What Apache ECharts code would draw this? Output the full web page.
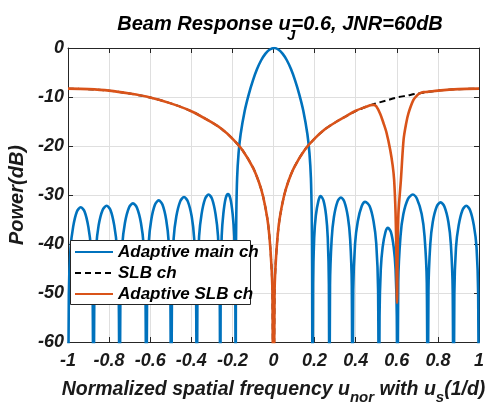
<!DOCTYPE html>
<html><head><meta charset="utf-8">
<script src="https://cdn.jsdelivr.net/npm/echarts@6/dist/echarts.min.js"></script>
<style>html,body{margin:0;padding:0;background:#fff}#c{width:490px;height:402px}</style>
</head><body><div id="c"></div>
<script>
// Adaptive main channel beam pattern [u, dB] (nulls drop below the axis)
const adaptiveMainCh = [
[-1.0,-90],
[-0.996,-50.5],[-0.988,-41],[-0.975,-36.5],[-0.957,-33.4],[-0.938,-32.5],[-0.919,-33.4],[-0.901,-36.5],[-0.888,-41],[-0.880,-50.5],[-0.876,-90],
[-0.872,-50.2],[-0.863,-40.7],[-0.851,-36.2],[-0.832,-33.1],[-0.812,-32.2],[-0.793,-33.1],[-0.775,-36.2],[-0.762,-40.7],[-0.753,-50.2],[-0.749,-90],
[-0.745,-49.7],[-0.736,-40.2],[-0.723,-35.7],[-0.7035,-32.6],[-0.684,-31.7],[-0.6645,-32.6],[-0.645,-35.7],[-0.632,-40.2],[-0.623,-49.7],[-0.619,-90],
[-0.615,-49.1],[-0.607,-39.6],[-0.595,-35.1],[-0.577,-32.0],[-0.5585,-31.1],[-0.540,-32.0],[-0.522,-35.1],[-0.510,-39.6],[-0.502,-49.1],[-0.498,-90],
[-0.494,-48.4],[-0.486,-38.9],[-0.473,-34.4],[-0.454,-31.3],[-0.4355,-30.4],[-0.417,-31.3],[-0.398,-34.4],[-0.386,-38.9],[-0.377,-48.4],[-0.373,-90],
[-0.370,-47.9],[-0.362,-38.4],[-0.350,-33.9],[-0.333,-30.8],[-0.316,-29.9],[-0.299,-30.8],[-0.282,-33.9],[-0.270,-38.4],[-0.262,-47.9],[-0.259,-90],
[-0.257,-47.8],[-0.252,-38.3],[-0.244,-33.8],[-0.233,-30.7],[-0.2215,-29.8],[-0.210,-30.7],[-0.199,-33.8],[-0.191,-38.3],[-0.186,-47.8],[-0.184,-90],
[-0.183,-45],[-0.181,-34],[-0.177,-26.5],[-0.170,-21.5],[-0.160,-17.6],[-0.140,-12.8],[-0.120,-9.4],[-0.100,-6.6],[-0.080,-4.3],
[-0.060,-2.5],[-0.040,-1.2],[-0.020,-0.35],[0.003,0],[0.025,-0.35],[0.045,-1.2],[0.065,-2.5],[0.085,-4.3],[0.105,-6.6],
[0.125,-9.4],[0.145,-12.8],[0.165,-17.6],[0.175,-21.5],[0.182,-26.5],[0.186,-34],[0.188,-45],[0.190,-90],
[0.1925,-48.2],[0.198,-38.7],[0.206,-34.2],[0.219,-31.1],[0.229,-30.2],[0.243,-31.1],[0.256,-34.2],[0.264,-38.7],[0.2695,-48.2],[0.272,-90],
[0.275,-48.5],[0.283,-39.0],[0.294,-34.5],[0.311,-31.4],[0.328,-30.5],[0.345,-31.4],[0.362,-34.5],[0.373,-39.0],[0.381,-48.5],[0.384,-90],
[0.388,-49.4],[0.397,-39.9],[0.410,-35.4],[0.429,-32.3],[0.446,-31.4],[0.468,-32.3],[0.487,-35.4],[0.500,-39.9],[0.509,-49.4],[0.513,-90],
[0.516,-54.7],[0.522,-45.2],[0.531,-40.7],[0.5445,-37.6],[0.557,-36.7],[0.5715,-37.6],[0.585,-40.7],[0.594,-45.2],[0.600,-54.7],[0.603,-90],
[0.607,-47.9],[0.618,-38.4],[0.632,-33.9],[0.6545,-30.8],[0.678,-29.9],[0.6985,-30.8],[0.721,-33.9],[0.735,-38.4],[0.746,-47.9],[0.750,-90],
[0.754,-49.5],[0.763,-40.0],[0.775,-35.5],[0.794,-32.4],[0.813,-31.5],[0.832,-32.4],[0.851,-35.5],[0.863,-40.0],[0.872,-49.5],[0.876,-90],
[0.880,-50.2],[0.888,-40.7],[0.901,-36.2],[0.9194,-33.1],[0.938,-32.2],[0.9566,-33.1],[0.975,-36.2],[0.988,-40.7],[0.996,-50.2],[1.0,-90]
];
// Sidelobe blanking channel pattern [u, dB]
const slbCh = [
[-1,-8.3],[-0.9,-8.4],[-0.8,-8.7],[-0.7,-9.3],[-0.6,-10.1],[-0.5,-11.3],[-0.4,-12.9],[-0.3,-15.2],[-0.25,-16.6],
[-0.2,-18.5],[-0.15,-20.9],[-0.1,-24.4],[-0.07,-27.5],[-0.05,-30.4],[-0.03,-34.8],[-0.02,-38.4],[-0.01,-44.4],[-0.005,-50.4],
[0,-90],
[0.005,-50.4],[0.01,-44.4],[0.02,-38.4],[0.03,-34.8],[0.05,-30.4],[0.07,-27.5],[0.1,-24.4],[0.15,-20.9],[0.2,-18.5],
[0.25,-16.6],[0.3,-15.2],[0.35,-14.0],[0.4,-12.9],[0.45,-12.0],[0.5,-11.3],[0.55,-10.7],[0.6,-10.1],[0.65,-9.7],
[0.7,-9.3],[0.8,-8.7],[0.9,-8.4],[1,-8.3]
];
// Adaptive SLB channel pattern [u, dB] (jammer null at u=0.6)
const adaptiveSlbCh = [
[-1,-8.3],[-0.9,-8.4],[-0.8,-8.7],[-0.7,-9.3],[-0.6,-10.1],[-0.5,-11.3],[-0.4,-12.9],[-0.3,-15.2],[-0.25,-16.6],
[-0.2,-18.5],[-0.15,-20.9],[-0.1,-24.4],[-0.07,-27.5],[-0.05,-30.4],[-0.03,-34.8],[-0.02,-38.4],[-0.01,-44.4],[-0.005,-50.4],
[0,-90],
[0.005,-50.4],[0.01,-44.4],[0.02,-38.4],[0.03,-34.8],[0.05,-30.4],[0.07,-27.5],[0.1,-24.4],[0.15,-20.9],[0.2,-18.5],
[0.25,-16.6],[0.3,-15.2],[0.35,-14.0],[0.4,-12.8],[0.45,-12.0],[0.47,-11.7],[0.487,-11.6],[0.5,-11.9],[0.52,-13.5],
[0.535,-15.3],[0.55,-17.3],[0.568,-20.8],[0.58,-24.0],[0.587,-26.9],[0.594,-33.7],[0.598,-42],[0.601,-52],
[0.604,-42],[0.608,-33.7],[0.62,-26.9],[0.633,-18.7],[0.645,-15.5],[0.657,-13.3],[0.681,-10.6],[0.7,-9.6],
[0.714,-9.2],[0.73,-9.0],[0.75,-8.95],[0.8,-8.7],[0.9,-8.4],[1,-8.3]
];
const seriesNames = ['Adaptive main ch', 'SLB ch', 'Adaptive SLB ch'];
const xMin = -1, xMax = 1, xStep = 0.2;
const yMin = -60, yMax = 0, yStep = 10;

const FF = "'Liberation Sans', Arial, Helvetica, sans-serif";
const F = {fontFamily: FF, fontWeight: 'bold', fontStyle: 'italic', color: '#1a1a1a'};
const AX = '#262626';
const GRID_C = '#dfdfdf';

const chart = echarts.init(document.getElementById('c'), null, {renderer: 'canvas'});
const fmt = v => { const r = Math.round(v * 10) / 10; return String(r === 0 ? 0 : r); };

const hiddenAxis = (pos, isX) => ({
  type: 'value', position: pos, min: isX ? xMin : yMin, max: isX ? xMax : yMax, interval: isX ? xStep : yStep,
  axisLine: {show: true, onZero: false, lineStyle: {color: AX, width: 1}},
  axisTick: {show: true, inside: true, length: 5, lineStyle: {color: AX}},
  axisLabel: {show: false}, splitLine: {show: false}
});

chart.setOption({
  animation: false,
  backgroundColor: '#fff',
  title: {
    text: 'Beam Response u{j|J}=0.6, JNR=60dB',
    left: 275, top: 0, textAlign: 'center',
    textStyle: Object.assign({}, F, {fontSize: 20, color: '#000', lineHeight: 38,
      rich: {
        j: Object.assign({}, F, {fontSize: 15, color: '#000', verticalAlign: 'bottom', lineHeight: 18, width: 1, align: 'left'})
      }})
  },
  grid: {left: 68, right: 11, top: 48, bottom: 60, containLabel: false, outerBoundsMode: 'none'},
  graphic: [{
    type: 'rect', z: 5, shape: {x: 70.5, y: 240.5, width: 180, height: 64},
    style: {fill: '#fff', stroke: AX, lineWidth: 1}
  }],
  legend: {
    orient: 'vertical', left: 70, top: 240, z: 6,
    data: seriesNames,
    itemWidth: 38, itemHeight: 14, itemGap: 3,
    padding: [3, 4, 3, 4],
    textStyle: Object.assign({}, F, {fontSize: 17, color: '#000', lineHeight: 18}),
    itemStyle: {opacity: 0}
  },
  xAxis: [{
    type: 'value', min: xMin, max: xMax, interval: xStep, position: 'bottom',
    name: 'Normalized spatial frequency u{s|nor} with u{s|s}(1/d)',
    nameLocation: 'middle', nameGap: 31,
    nameTextStyle: Object.assign({}, F, {fontSize: 19.5, lineHeight: 30,
      rich: {s: Object.assign({}, F, {fontSize: 15, lineHeight: 16, verticalAlign: 'bottom'})}}),
    axisLine: {show: true, onZero: false, lineStyle: {color: AX, width: 1}},
    axisTick: {show: true, inside: true, length: 5, lineStyle: {color: AX}},
    axisLabel: Object.assign({}, F, {fontSize: 18, margin: 10, formatter: fmt}),
    splitLine: {show: true, lineStyle: {color: GRID_C, width: 1}}
  }, hiddenAxis('top', true)],
  yAxis: [{
    type: 'value', min: yMin, max: yMax, interval: yStep, position: 'left',
    name: 'Power(dB)', nameLocation: 'middle', nameGap: 37, nameRotate: 90,
    nameTextStyle: Object.assign({}, F, {fontSize: 20}),
    axisLine: {show: true, onZero: false, lineStyle: {color: AX, width: 1}},
    axisTick: {show: true, inside: true, length: 5, lineStyle: {color: AX}},
    axisLabel: Object.assign({}, F, {fontSize: 18, margin: 4, formatter: fmt}),
    splitLine: {show: true, lineStyle: {color: GRID_C, width: 1}}
  }, hiddenAxis('right', false)],
  series: [
    {name: seriesNames[0], type: 'line', data: adaptiveMainCh, showSymbol: false, symbol: 'none', smooth: 0.3,
     clip: true, lineStyle: {color: '#0072BD', width: 2.6}, itemStyle: {color: '#0072BD'}, z: 2},
    {name: seriesNames[1], type: 'line', data: slbCh, showSymbol: false, symbol: 'none', smooth: 0.3,
     clip: true, lineStyle: {color: '#000', width: 2, type: [6, 4]}, itemStyle: {color: '#000'}, z: 3},
    {name: seriesNames[2], type: 'line', data: adaptiveSlbCh, showSymbol: false, symbol: 'none', smooth: 0.3,
     clip: true, lineStyle: {color: '#D95319', width: 2.6}, itemStyle: {color: '#D95319'}, z: 4}
  ]
});
</script></body></html>
